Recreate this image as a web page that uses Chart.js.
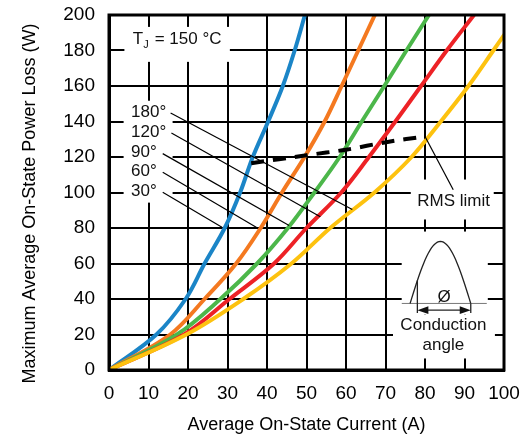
<!DOCTYPE html>
<html><head><meta charset="utf-8">
<script src="https://cdn.jsdelivr.net/npm/chart.js@4/dist/chart.umd.min.js"></script>
<style>html,body{margin:0;padding:0;background:#fff}canvas{display:block}</style>
</head><body><canvas id="c" width="523" height="436"></canvas>
<script>
// power loss levels (W) and the average current (A) read for each conduction angle
const powerLevels=[0,20,40,60,80,100,120,140,160,180,200];
const cur30 =[0,12.0,19.4,24.2,29.3,33.2,36.4,40.3,44.0,47.0,49.6];
const cur60 =[0,15.5,24.2,32.2,38.4,43.8,49.5,54.6,58.9,63.1,67.3];
const cur90 =[0,17.2,28.2,37.5,45.3,52.0,58.4,64.0,69.7,75.3,81.0];
const cur120=[0,19.0,30.5,41.8,50.0,58.8,65.8,72.5,79.0,85.5,92.4];
const cur180=[0,19.6,34.0,46.2,56.0,67.2,76.6,84.0,91.0,97.3,103.5];
const rmsCurrent=[36,50,60,70.5,80];
const rmsPower=[116.5,121,124.1,128.5,131.6];
const xTickValues=[0,10,20,30,40,50,60,70,80,90,100];
const yTickValues=[0,20,40,60,80,100,120,140,160,180,200];
const angleLabels=['180°','120°','90°','60°','30°'];
const yTitle='Maximum Average On-State Power Loss (W)';

const FONT='"Liberation Sans", Arial, sans-serif';
const pts=(xs,ys)=>xs.map((x,i)=>({x,y:ys[i]}));

// annotation placement, in axis units
const angleNotes=[
  {at:[5.6,145.4],from:[15.6,144.8],to:[61.6,90.4]},
  {at:[5.6,134.1],from:[15.8,133.5],to:[53.5,86.3]},
  {at:[5.6,122.9],from:[13.6,121.9],to:[45.6,81.4]},
  {at:[5.6,111.8],from:[13.6,111.4],to:[37.7,79.9]},
  {at:[5.6,100.7],from:[13.6,100.1],to:[28.6,80.4]}
];
const whiteBoxes=[[3.9,193.3,30.6,173.6],[3.7,151.7,16.1,94.3],[76.4,107.3,97.4,84.8],[74.1,78,95.9,31.3],[71.9,31.3,97.7,6.5]];

const overlay={
  id:'overlay',
  beforeDatasetsDraw(chart){
    const {ctx,scales:{x,y}}=chart;
    ctx.save(); ctx.fillStyle='#fff';
    whiteBoxes.forEach(b=>{const x0=x.getPixelForValue(b[0]),y0=y.getPixelForValue(b[1]);ctx.fillRect(x0,y0,x.getPixelForValue(b[2])-x0,y.getPixelForValue(b[3])-y0);});
    ctx.restore();
  },
  afterDatasetsDraw(chart){
    const {ctx,scales:{x,y}}=chart;
    const X=v=>x.getPixelForValue(v),Y=v=>y.getPixelForValue(v);
    ctx.save();
    ctx.fillStyle='#111'; ctx.strokeStyle='#000'; ctx.lineWidth=1.2;
    ctx.textBaseline='middle';
    // TJ label
    let tx=X(6),ty=Y(186.2);
    ctx.font='17px '+FONT; ctx.textAlign='left';
    ctx.fillText('T',tx,ty);
    ctx.font='11px '+FONT; ctx.fillText('J',tx+10.5,ty+5.5);
    ctx.font='17px '+FONT; ctx.fillText('= 150 °C',tx+22,ty);
    // conduction angle labels with leaders
    angleNotes.forEach((n,i)=>{
      ctx.fillText(angleLabels[i],X(n.at[0]),Y(n.at[1]));
      ctx.beginPath(); ctx.moveTo(X(n.from[0]),Y(n.from[1])); ctx.lineTo(X(n.to[0]),Y(n.to[1])); ctx.stroke();
    });
    // RMS limit
    ctx.textAlign='center';
    ctx.fillText('RMS limit',X(87.25),Y(95));
    ctx.beginPath(); ctx.moveTo(X(80),Y(131.6)); ctx.lineTo(X(87.15),Y(101.6)); ctx.stroke();
    // conduction angle inset
    const cx=X(84.65),by=Y(37.5);
    ctx.strokeStyle='#777'; ctx.lineWidth=1;
    ctx.beginPath(); ctx.moveTo(cx-41.6,by); ctx.lineTo(cx+43.4,by); ctx.stroke();
    const x0=cx-33.3,x1=cx+27.4,amp=62,fx=cx-26;
    ctx.strokeStyle='#222'; ctx.lineWidth=1.3;
    ctx.beginPath();
    for(let k=0;k<=40;k++){const px=x0+(x1-x0)*k/40;const py=by-amp*Math.sin(Math.PI*k/40);k?ctx.lineTo(px,py):ctx.moveTo(px,py);}
    ctx.stroke();
    const fy=by-amp*Math.sin(Math.PI*(fx-x0)/(x1-x0));
    ctx.beginPath(); ctx.moveTo(fx,fy); ctx.lineTo(fx,by+9.5); ctx.moveTo(x1,by); ctx.lineTo(x1,by+9.5); ctx.stroke();
    const ay=by+6.7;
    ctx.beginPath(); ctx.moveTo(fx+8,ay); ctx.lineTo(x1-8,ay); ctx.stroke();
    ctx.fillStyle='#111';
    ctx.beginPath(); ctx.moveTo(fx,ay); ctx.lineTo(fx+11,ay-3.8); ctx.lineTo(fx+11,ay+3.8); ctx.closePath(); ctx.fill();
    ctx.beginPath(); ctx.moveTo(x1,ay); ctx.lineTo(x1-11,ay-3.8); ctx.lineTo(x1-11,ay+3.8); ctx.closePath(); ctx.fill();
    ctx.font='17px '+FONT;
    ctx.fillText('Ø',cx+0.7,by-5.7);
    ctx.fillText('Conduction',cx,by+22);
    ctx.fillText('angle',cx,by+41.7);
    ctx.restore();
  },
  afterDraw(chart){
    const {ctx,chartArea:a}=chart;
    ctx.save(); ctx.strokeStyle='#000'; ctx.lineWidth=3;
    ctx.strokeRect(a.left,a.top,a.right-a.left,a.bottom-a.top);
    // y axis title, sits a little below the plot centre
    ctx.translate(30,(a.top+a.bottom)/2+11); ctx.rotate(-Math.PI/2);
    ctx.fillStyle='#000'; ctx.font='18px '+FONT; ctx.textAlign='center'; ctx.textBaseline='middle';
    ctx.fillText(yTitle,0,0);
    ctx.restore();
  }
};

const curve=(data,color)=>({data:pts(data,powerLevels),borderColor:color,borderWidth:4,pointRadius:0,showLine:true,tension:0.35,clip:0});

new Chart(document.getElementById('c'),{
  type:'scatter',
  data:{datasets:[
    {data:pts(rmsCurrent,rmsPower),borderColor:'#000',borderWidth:4,borderDash:[13,9],pointRadius:0,showLine:true,tension:0.3,clip:0},
    curve(cur180,'#fdc20f'),
    curve(cur120,'#ed2226'),
    curve(cur90,'#4cb74a'),
    curve(cur60,'#f47920'),
    curve(cur30,'#1b85c7')
  ]},
  options:{
    responsive:false,animation:false,devicePixelRatio:1,
    layout:{padding:{left:0,right:19,top:15,bottom:0}},
    plugins:{legend:{display:false},tooltip:{enabled:false}},
    scales:{
      x:{type:'linear',min:0,max:100,
        afterBuildTicks:s=>{s.ticks=xTickValues.map(v=>({value:v}));},
        afterFit:s=>{s.height=66;s.paddingLeft=0;s.paddingRight=0;},
        ticks:{color:'#000',font:{family:FONT,size:19},padding:12,maxRotation:0},
        grid:{color:'#000',lineWidth:2,drawTicks:false},
        border:{color:'#000',width:3},
        title:{display:true,text:'Average On-State Current (A)',color:'#000',font:{family:FONT,size:18},padding:{top:2,bottom:0}}},
      y:{type:'linear',min:0,max:200,
        afterBuildTicks:s=>{s.ticks=yTickValues.map(v=>({value:v}));},
        afterFit:s=>{s.width=109;s.paddingTop=0;s.paddingBottom=0;},
        ticks:{color:'#000',font:{family:FONT,size:19},padding:14},
        grid:{color:'#000',lineWidth:2,drawTicks:false},
        border:{color:'#000',width:3},
        title:{display:false}}
    }
  },
  plugins:[overlay]
});
</script></body></html>
